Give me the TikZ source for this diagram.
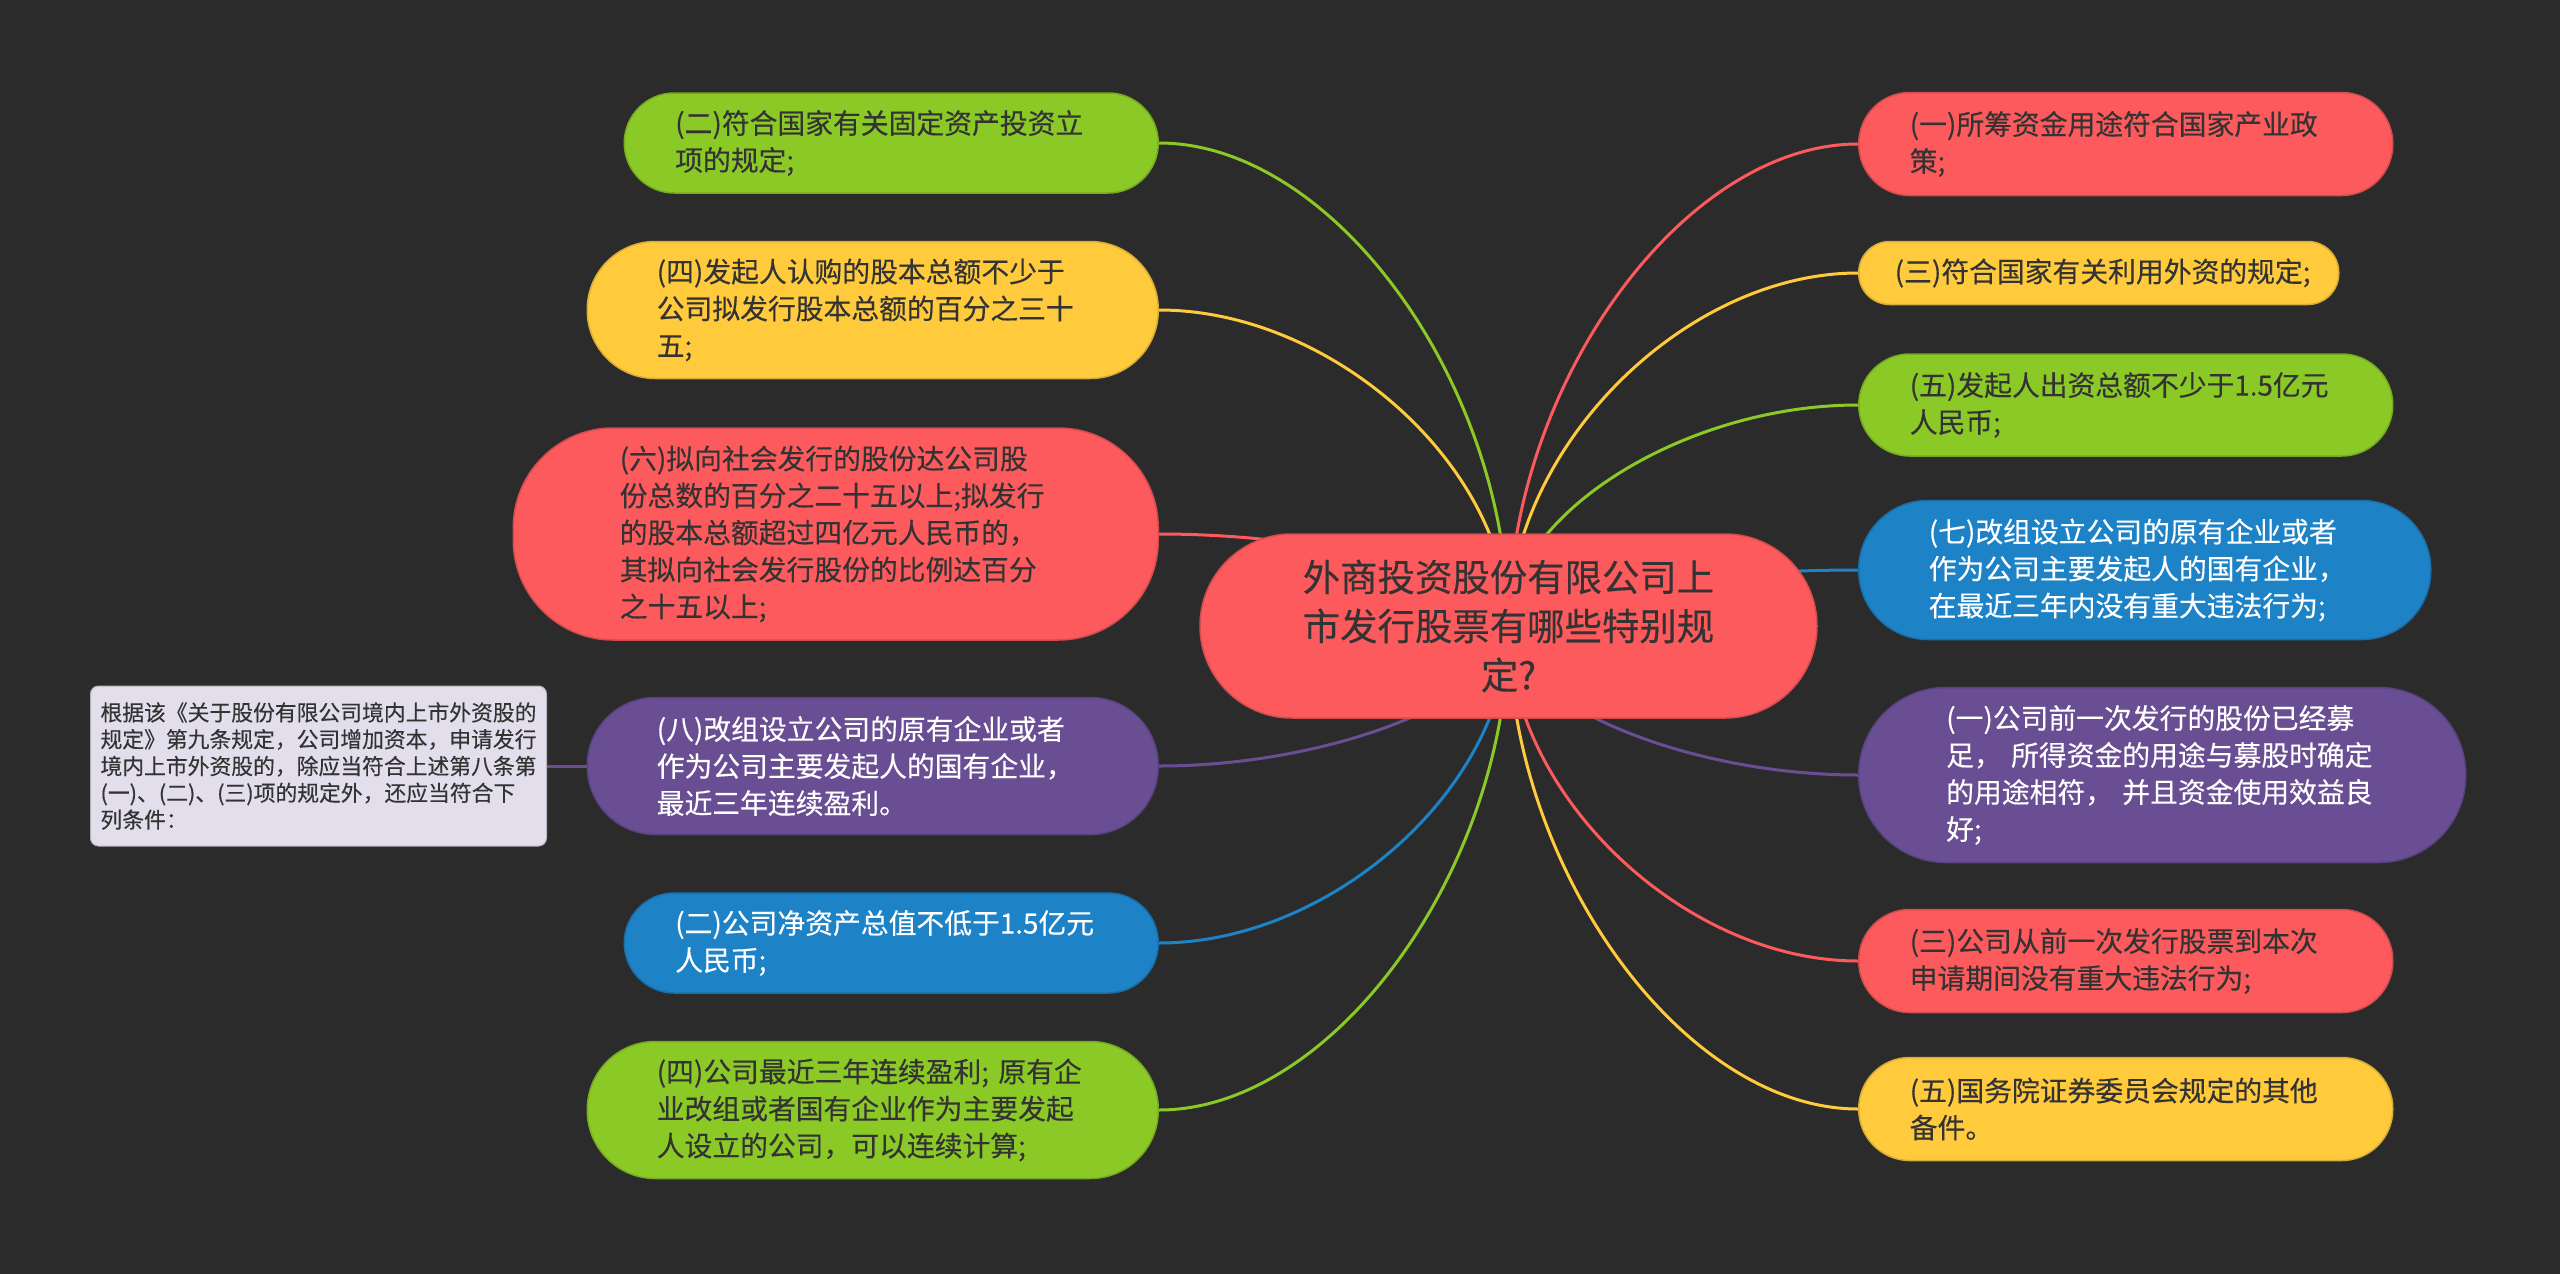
\documentclass[tikz,border=0pt]{standalone}
\usepackage{fontspec}
\setmainfont{Noto Sans CJK SC}[FakeBold=0.3]
\usetikzlibrary{calc,backgrounds}
\definecolor{canvas}{HTML}{2B2B2B}
\definecolor{ink}{HTML}{333333}
\definecolor{topicred}{HTML}{FC5A5C}
\definecolor{topicyellow}{HTML}{FFCA3C}
\definecolor{topicgreen}{HTML}{8BC926}
\definecolor{topicblue}{HTML}{1D83C6}
\definecolor{topicpurple}{HTML}{694E94}
\definecolor{notefill}{HTML}{E2DEEB}
\newcommand\rootfont{\fontsize{37.4pt}{49pt}\selectfont}
\newcommand\leaffont{\fontsize{27.8pt}{37pt}\selectfont}
\newcommand\notefont{\fontsize{21.8pt}{26.8pt}\selectfont}
\tikzset{
  root/.style={fill=topicred,draw=topicred!85!black,line width=1.5pt,align=center,
    minimum width=617pt,minimum height=184pt,rounded corners=92pt,inner sep=0pt,
    text=ink,font=\rootfont},
  leaf/.style={fill=#1,draw=#1!85!black,line width=1.5pt,align=left,inner sep=0pt,
    text width=432pt,text=ink,font=\leaffont},
  leaf/.default=topicred,
  note/.style={fill=notefill,draw=notefill!80!black,line width=1pt,rounded corners=8pt,
    align=left,inner xsep=10pt,minimum height=160pt,text=ink,font=\notefont},
  link/.style={draw=#1,line width=3pt,
    to path={.. controls ($(\tikztostart)!.5!(\tikztostart|-\tikztotarget)$)
      and ($(\tikztotarget)!.5!(\tikztostart|-\tikztotarget)$) .. (\tikztotarget)}},
}

\begin{document}
\begin{tikzpicture}[x=1pt,y=-1pt]
  \useasboundingbox (0,0) rectangle (2560,1274);

  \node[root] (root) at (1508.5,626) {外商投资股份有限公司上\\市发行股票有哪些特别规\\定?};

  % left side
  \node[leaf=topicgreen,minimum width=534pt,minimum height=100pt,rounded corners=50pt,anchor=east] (l1) at (1159,143)
    {(二)符合国家有关固定资产投资立\\项的规定;};
  \node[leaf=topicyellow,minimum width=571pt,minimum height=137pt,rounded corners=68pt,anchor=east] (l2) at (1159,310)
    {(四)发起人认购的股本总额不少于\\公司拟发行股本总额的百分之三十\\五;};
  \node[leaf=topicred,minimum width=645pt,minimum height=212pt,rounded corners=100pt,anchor=east] (l3) at (1159,534)
    {(六)拟向社会发行的股份达公司股\\份总数的百分之二十五以上;拟发行\\的股本总额超过四亿元人民币的，\\其拟向社会发行股份的比例达百分\\之十五以上;};
  \node[leaf=topicpurple,text=white,minimum width=571pt,minimum height=137pt,rounded corners=68pt,anchor=east] (l4) at (1159,766)
    {(八)改组设立公司的原有企业或者\\作为公司主要发起人的国有企业，\\最近三年连续盈利。};
  \node[leaf=topicblue,text=white,minimum width=534pt,minimum height=100pt,rounded corners=50pt,anchor=east] (l5) at (1159,943)
    {(二)公司净资产总值不低于1.5亿元\\人民币;};
  \node[leaf=topicgreen,minimum width=571pt,minimum height=137pt,rounded corners=68pt,anchor=east] (l6) at (1159,1110)
    {(四)公司最近三年连续盈利;~原有企\\业改组或者国有企业作为主要发起\\人设立的公司，可以连续计算;};

  \node[note,anchor=east] (note) at (547,766)
    {根据该《关于股份有限公司境内上市外资股的\\规定》第九条规定，公司增加资本，申请发行\\境内上市外资股的，除应当符合上述第八条第\\(一)、(二)、(三)项的规定外，还应当符合下\\列条件：};

  % right side
  \node[leaf=topicred,minimum width=534pt,minimum height=103pt,rounded corners=51pt,anchor=west] (r1) at (1858,144)
    {(一)所筹资金用途符合国家产业政\\策;};
  \node[leaf=topicyellow,text width=408pt,minimum width=480pt,minimum height=63pt,rounded corners=31pt,anchor=west] (r2) at (1858,273)
    {(三)符合国家有关利用外资的规定;};
  \node[leaf=topicgreen,minimum width=534pt,minimum height=102pt,rounded corners=51pt,anchor=west] (r3) at (1858,405)
    {(五)发起人出资总额不少于1.5亿元\\人民币;};
  \node[leaf=topicblue,text=white,minimum width=572pt,minimum height=139pt,rounded corners=69pt,anchor=west] (r4) at (1858,570)
    {(七)改组设立公司的原有企业或者\\作为公司主要发起人的国有企业，\\在最近三年内没有重大违法行为;};
  \node[leaf=topicpurple,text=white,minimum width=607pt,minimum height=175pt,rounded corners=87pt,anchor=west] (r5) at (1858,775)
    {(一)公司前一次发行的股份已经募\\足，~所得资金的用途与募股时确定\\的用途相符，~并且资金使用效益良\\好;};
  \node[leaf=topicred,minimum width=534pt,minimum height=103pt,rounded corners=51pt,anchor=west] (r6) at (1858,961)
    {(三)公司从前一次发行股票到本次\\申请期间没有重大违法行为;};
  \node[leaf=topicyellow,minimum width=534pt,minimum height=103pt,rounded corners=51pt,anchor=west] (r7) at (1858,1109)
    {(五)国务院证券委员会规定的其他\\备件。};

  \begin{scope}[on background layer]
    \fill[canvas] (0,0) rectangle (2560,1274);
    \draw[link=topicgreen] (root.center) to (l1.east);
    \draw[link=topicyellow] (root.center) to (l2.east);
    \draw[link=topicred] (root.center) to (l3.east);
    \draw[link=topicpurple] (root.center) to (l4.east);
    \draw[link=topicblue] (root.center) to (l5.east);
    \draw[link=topicgreen] (root.center) to (l6.east);
    \draw[link=topicpurple] (l4.west) -- (note.east);
    \draw[link=topicred] (root.center) to (r1.west);
    \draw[link=topicyellow] (root.center) to (r2.west);
    \draw[link=topicgreen] (root.center) to (r3.west);
    \draw[link=topicblue] (root.center) to (r4.west);
    \draw[link=topicpurple] (root.center) to (r5.west);
    \draw[link=topicred] (root.center) to (r6.west);
    \draw[link=topicyellow] (root.center) to (r7.west);
  \end{scope}
\end{tikzpicture}
\end{document}
